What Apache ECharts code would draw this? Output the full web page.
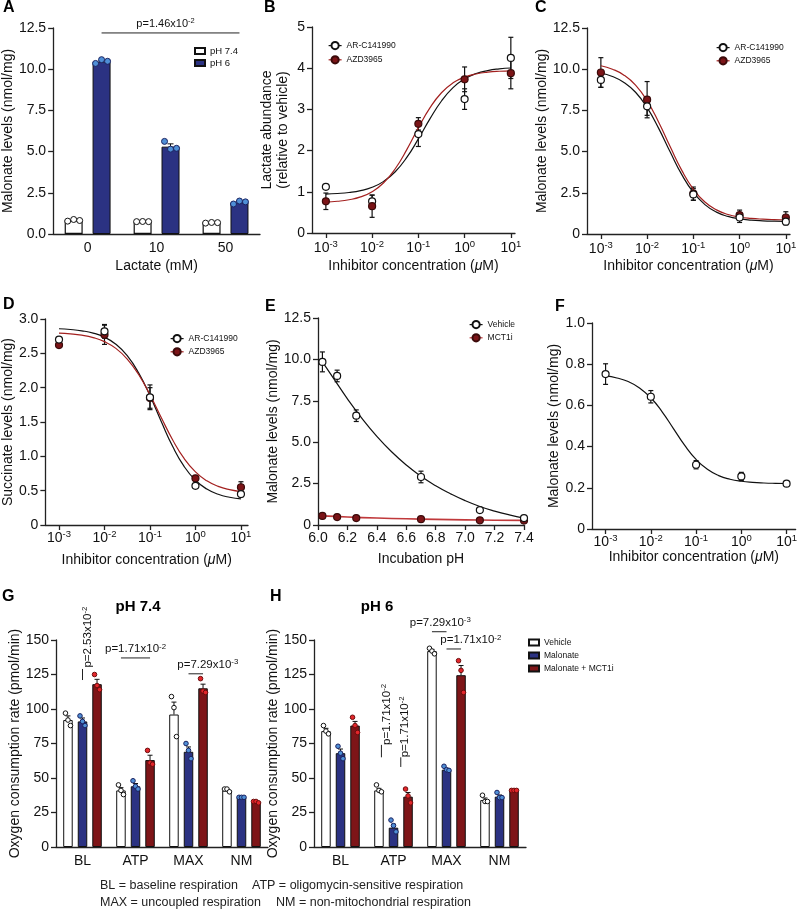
<!DOCTYPE html>
<html><head><meta charset="utf-8">
<script src="https://cdn.jsdelivr.net/npm/echarts@6/dist/echarts.min.js"></script>
<style>html,body{margin:0;padding:0;background:#fff}#wrap{position:relative;width:800px;height:910px;background:#fff}.p{position:absolute;left:0;top:0;width:800px;height:910px}</style>
</head><body><div id="wrap"></div>
<script>
// ---------- DATA ----------
// Panel A
const aCategories = ['0', '10', '50'];
const aPh74Mean = [0.82, 0.75, 0.68];
const aPh74Err = [0.03, 0.01, 0.02];
const aPh74Dots = [[0.78, 0.88, 0.82], [0.75, 0.76, 0.75], [0.66, 0.70, 0.69]];
const aPh6Mean = [10.45, 5.3, 1.92];
const aPh6Err = [0.06, 0.17, 0.07];
const aPh6Dots = [[10.35, 10.58, 10.48], [5.62, 5.15, 5.2], [1.82, 2.0, 1.95]];
const aSig = [{cat: 0, catTo: 2, from: 1, to: 1, y: 12.2, label: 'p=1.46x10', sup: '-2', dx: -5}];

// dose axis (log10 of µM) and tick exponents
const decadeExponents = [-3, -2, -1, 0, 1];
const doseLog10 = [-3, -2, -1, 0, 1];
const fitLog10 = [-3, -2.75, -2.5, -2.25, -2, -1.75, -1.5, -1.25, -1, -0.75, -0.5, -0.25, 0, 0.25, 0.5, 0.75, 1];

// Panel B
const bArcMean = [1.12, 0.77, 2.4, 3.25, 4.25];
const bArcErr = [0.05, 0.15, 0.3, 0.25, 0.5];
const bAzdMean = [0.77, 0.65, 2.65, 3.73, 3.88];
const bAzdErr = [0.2, 0.27, 0.15, 0.3, 0.38];
const bArcFit = [0.945, 0.959, 0.983, 1.028, 1.11, 1.253, 1.487, 1.834, 2.284, 2.77, 3.204, 3.53, 3.743, 3.87, 3.943, 3.983, 4.005];
const bAzdFit = [0.751, 0.77, 0.807, 0.876, 1.002, 1.219, 1.56, 2.024, 2.552, 3.037, 3.404, 3.644, 3.784, 3.86, 3.903, 3.926, 3.937];

// Panel C
const cArcMean = [9.35, 7.75, 2.4, 1.0, 0.75];
const cArcErr = [0.45, 0.55, 0.35, 0.3, 0.2];
const cAzdMean = [9.8, 8.15, 2.45, 1.15, 1.0];
const cAzdErr = [0.9, 1.1, 0.4, 0.3, 0.35];
const cArcFit = [9.76, 9.56, 9.2, 8.6, 7.67, 6.41, 4.97, 3.6, 2.52, 1.78, 1.327, 1.066, 0.92, 0.842, 0.799, 0.776, 0.764];
const cAzdFit = [10.21, 10.0, 9.64, 9.03, 8.08, 6.78, 5.29, 3.86, 2.72, 1.94, 1.463, 1.186, 1.03, 0.947, 0.902, 0.877, 0.865];

// Panel D
const dArcMean = [2.7, 2.82, 1.86, 0.57, 0.45];
const dArcErr = [0.03, 0.1, 0.18, 0.03, 0.04];
const dAzdMean = [2.62, 2.77, 1.85, 0.68, 0.55];
const dAzdErr = [0.03, 0.14, 0.15, 0.04, 0.08];
const dArcFit = [2.858, 2.847, 2.828, 2.795, 2.735, 2.633, 2.466, 2.215, 1.882, 1.503, 1.142, 0.853, 0.651, 0.523, 0.447, 0.404, 0.38];
const dAzdFit = [2.795, 2.784, 2.764, 2.729, 2.67, 2.572, 2.417, 2.192, 1.897, 1.562, 1.238, 0.969, 0.773, 0.643, 0.563, 0.515, 0.487];

// Panel E
const ePh = [6.03, 6.13, 6.26, 6.7, 7.1, 7.4];
const eVehicleMean = [9.85, 9.0, 6.6, 2.9, 0.9, 0.42];
const eVehicleErr = [0.6, 0.35, 0.35, 0.35, 0.08, 0.05];
const eMct1iMean = [0.55, 0.48, 0.42, 0.35, 0.28, 0.27];
const eMct1iErr = [0.05, 0.04, 0.04, 0.03, 0.03, 0.03];
const eFitPh = [6.03, 6.1, 6.2, 6.3, 6.4, 6.5, 6.6, 6.7, 6.8, 6.9, 7.0, 7.1, 7.2, 7.3, 7.4];
const eVehicleFit = [9.85, 8.93, 7.62, 6.42, 5.35, 4.42, 3.62, 2.94, 2.37, 1.89, 1.47, 1.12, 0.84, 0.61, 0.42];
const eMct1iFitPh = [6.03, 6.2, 6.4, 6.6, 6.8, 7.0, 7.2, 7.4];
const eMct1iFit = [0.55, 0.48, 0.42, 0.375, 0.34, 0.31, 0.29, 0.28];

// Panel F
const fMean = [0.752, 0.642, 0.312, 0.255, 0.22];
const fErr = [0.05, 0.03, 0.02, 0.02, 0.01];
const fFit = [0.743, 0.733, 0.716, 0.685, 0.637, 0.569, 0.4875, 0.4055, 0.3376, 0.2897, 0.2593, 0.2417, 0.2317, 0.2263, 0.2234, 0.2218, 0.2209];

// Panels G and H
const ocrCategories = ['BL', 'ATP', 'MAX', 'NM'];
const gVehicleMean = [92, 41, 96, 41];
const gVehicleErr = [3, 2, 9, 0.8];
const gMalonateMean = [91, 44, 69, 36];
const gMalonateErr = [2.5, 2, 3.5, 0.4];
const gMct1iMean = [118, 63, 115, 32.5];
const gMct1iErr = [3.5, 3.5, 3, 0.5];
const gVehicleDots = [[97, 92, 88], [45, 41, 38], [109, 101, 80], [42, 42, 40]];
const gMalonateDots = [[95, 91, 88], [48, 44, 42], [75, 70, 64], [36, 36, 36]];
const gMct1iDots = [[125, 117, 114], [70, 61, 60], [122, 113, 112], [33, 33, 32]];
const gSigH = [
  {cat: 1, catTo: 1, from: 0, to: 2, y: 137, label: 'p=1.71x10', sup: '-2', dx: 0},
  {cat: 2, catTo: 2, from: 1, to: 2, y: 125.5, label: 'p=7.29x10', sup: '-3', dx: 12}
];
const gSigV = [{cat: 0, at: 1, y1: 121, y2: 129, textY: 130, dx: 5, label: 'p=2.53x10', sup: '-2'}];

const hVehicleMean = [84, 41, 142, 34];
const hVehicleErr = [2, 1.5, 1.2, 1.5];
const hMalonateMean = [68, 14, 56, 36.5];
const hMalonateErr = [3, 2.5, 1, 1.2];
const hMct1iMean = [88, 36.5, 124.5, 41];
const hMct1iErr = [3, 3, 7, 0.3];
const hVehicleDots = [[88, 84, 82], [45, 41, 40], [144, 142, 140], [37.5, 33, 33]];
const hMalonateDots = [[73, 68, 64], [19.5, 15.5, 11], [58.5, 56, 55.5], [39.5, 35.8, 35.8]];
const hMct1iDots = [[94, 88, 83], [42, 37, 32], [135, 128, 112], [41, 41, 41]];
const hSigH = [
  {cat: 2, catTo: 2, from: 0, to: 1, y: 156, label: 'p=7.29x10', sup: '-3', dx: 1},
  {cat: 2, catTo: 2, from: 1, to: 2, y: 143.5, label: 'p=1.71x10', sup: '-2', dx: 17}
];
const hSigV = [
  {cat: 1, at: 0.17, y1: 65, y2: 74, textY: 74, dx: 5, label: 'p=1.71x10', sup: '-2'},
  {cat: 1, at: 1.5, y1: 58, y2: 65, textY: 65, dx: 4, label: 'p=1.71x10', sup: '-2'}
];

// ---------- STYLE ----------
const FONT = '"Liberation Sans", Arial, Helvetica, sans-serif';
const AXC = '#222', TXT = '#111';
const NAVY = '#2b3282', DRED = '#7e1518', LBLUE = '#4f8fd6', BRED = '#e3262b';
const CURVE_RED = '#a3201f', MARK_RED = '#7b1417';
const A_BW = 18, A_GAP = 0.55, A_STEP = A_BW * (1 + A_GAP);
const G_BW = 9.5, G_GAP = 0.53, G_STEP = G_BW * (1 + G_GAP);

const wrap = document.getElementById('wrap');
function mount(option) {
  const d = document.createElement('div'); d.className = 'p'; wrap.appendChild(d);
  const ch = echarts.init(d, null, {renderer: 'canvas', width: 800, height: 910});
  option.animation = false;
  option.textStyle = {fontFamily: FONT};
  ch.setOption(option);
}
function letter(t, x, y) {
  return {type: 'text', x, y, style: {text: t, fontSize: 16, fontWeight: 'bold', fontFamily: FONT, fill: '#000', align: 'left', verticalAlign: 'top'}};
}
const lineAx = {color: AXC, width: 1.3};
function yAx(max, interval, fmt, name, nameGap, fontSize, extra) {
  return {type: 'value', min: 0, max, interval,
    axisLine: {show: true, onZero: false, lineStyle: lineAx},
    axisTick: {show: true, length: 5, lineStyle: lineAx},
    axisLabel: {color: TXT, fontSize: fontSize || 14, fontFamily: FONT, margin: 7, formatter: fmt},
    splitLine: {show: false},
    name, nameLocation: 'middle', nameGap,
    nameTextStyle: Object.assign({color: TXT, fontSize: 14, fontFamily: FONT}, extra || {})};
}
function logX(min, max, margin, nameGap) {
  return {type: 'value', min, max,
    axisLine: {onZero: false, lineStyle: lineAx},
    axisTick: {customValues: decadeExponents, length: 5, lineStyle: lineAx},
    axisLabel: {customValues: decadeExponents, margin, formatter: v => '{b|10}{s|' + v + '}',
      rich: {b: {fontSize: 14, fontFamily: FONT, color: TXT, lineHeight: 16, verticalAlign: 'bottom'},
             s: {fontSize: 9.5, fontFamily: FONT, color: TXT, lineHeight: 9, verticalAlign: 'top'}}},
    splitLine: {show: false},
    name: '{n|Inhibitor concentration (}{i|\u03bc}{n|M)}', nameLocation: 'middle', nameGap,
    nameTextStyle: {rich: {n: {fontSize: 14, fontFamily: FONT, color: TXT}, i: {fontSize: 14, fontFamily: FONT, color: TXT, fontStyle: 'italic'}}}};
}
function catX(data, name, nameGap, margin) {
  return {type: 'category', data,
    axisLine: {onZero: false, lineStyle: lineAx},
    axisTick: {alignWithLabel: true, length: 5, lineStyle: lineAx},
    axisLabel: {color: TXT, fontSize: 14, fontFamily: FONT, margin},
    name, nameLocation: 'middle', nameGap, nameTextStyle: {color: TXT, fontSize: 14, fontFamily: FONT}};
}
function errSeries(xs, means, errs, color) {
  return {type: 'custom', silent: true, z: 2, data: xs.map((x, i) => [x, means[i], errs[i]]), encode: {x: 0, y: 1},
    renderItem: (p, api) => {
      const x = api.value(0), y = api.value(1), e = api.value(2);
      const t = api.coord([x, y + e]), b = api.coord([x, y - e]), c = 2.5;
      const st = {stroke: color, lineWidth: 1.2};
      return {type: 'group', children: [
        {type: 'line', shape: {x1: t[0], y1: t[1], x2: b[0], y2: b[1]}, style: st},
        {type: 'line', shape: {x1: t[0] - c, y1: t[1], x2: t[0] + c, y2: t[1]}, style: st},
        {type: 'line', shape: {x1: b[0] - c, y1: b[1], x2: b[0] + c, y2: b[1]}, style: st}]};
    }};
}
function points(name, xs, means, fill, stroke, size, lineColor) {
  return {type: 'line', name, data: xs.map((x, i) => [x, means[i]]), symbol: 'circle', symbolSize: size, showAllSymbol: true,
    clip: false, silent: true, z: 5, lineStyle: {opacity: 0, color: lineColor || stroke, width: 1.3},
    itemStyle: {color: fill, borderColor: stroke, borderWidth: 1.2}};
}
function curve(xs, ys, color, width) {
  return {type: 'line', data: xs.map((x, i) => [x, ys[i]]), symbol: 'none', smooth: 0.5,
    silent: true, z: 3, lineStyle: {color, width: width || 1.2}};
}
function barErr(means, errs, barIdx, nBars, step, cap) {
  return {type: 'custom', silent: true, z: 3, data: means.map((m, i) => [i, m, errs[i]]), encode: {x: 0, y: 1},
    renderItem: (p, api) => {
      const c = api.coord([api.value(0), api.value(1)]);
      const t = api.coord([api.value(0), api.value(1) + api.value(2)]);
      const x = c[0] + (barIdx - (nBars - 1) / 2) * step;
      const st = {stroke: '#111', lineWidth: 1};
      return {type: 'group', children: [
        {type: 'line', shape: {x1: x, y1: c[1], x2: x, y2: t[1]}, style: st},
        {type: 'line', shape: {x1: x - cap, y1: t[1], x2: x + cap, y2: t[1]}, style: st}]};
    }};
}
function barDots(dots, barIdx, nBars, step, jitter, r, fill, stroke) {
  const data = [];
  dots.forEach((arr, i) => arr.forEach((v, j) => data.push([i, v, j])));
  return {type: 'custom', silent: true, z: 4, data, encode: {x: 0, y: 1},
    renderItem: (p, api) => {
      const c = api.coord([api.value(0), api.value(1)]);
      const x = c[0] + (barIdx - (nBars - 1) / 2) * step + jitter[api.value(2)];
      return {type: 'circle', shape: {cx: x, cy: c[1], r}, style: {fill, stroke, lineWidth: 1}};
    }};
}
function supRich(fs) {
  return {n: {fontSize: fs, fontFamily: FONT, fill: TXT, lineHeight: fs + 2},
          s: {fontSize: fs * 0.68, fontFamily: FONT, fill: TXT, lineHeight: fs * 0.7, verticalAlign: 'top'}};
}
function sigH(list, nBars, step, fs) {
  return {type: 'custom', silent: true, z: 6, data: list.map(a => [a.cat, a.y]), encode: {x: 0, y: 1},
    renderItem: (p, api) => {
      const a = list[p.dataIndex];
      const c1 = api.coord([a.cat, a.y]), c2 = api.coord([a.catTo, a.y]);
      const x1 = c1[0] + (a.from - (nBars - 1) / 2) * step, x2 = c2[0] + (a.to - (nBars - 1) / 2) * step;
      return {type: 'group', children: [
        {type: 'line', shape: {x1, y1: c1[1], x2, y2: c1[1]}, style: {stroke: '#222', lineWidth: 1}},
        {type: 'text', x: (x1 + x2) / 2 + (a.dx || 0), y: c1[1] - 2,
         style: {text: '{n|' + a.label + '}{s|' + a.sup + '}', rich: supRich(fs), fill: TXT, align: 'center', verticalAlign: 'bottom'}}]};
    }};
}
function sigV(list, nBars, step, fs) {
  return {type: 'custom', silent: true, z: 6, data: list.map(a => [a.cat, a.y1]), encode: {x: 0, y: 1},
    renderItem: (p, api) => {
      const a = list[p.dataIndex];
      const c1 = api.coord([a.cat, a.y1]), c2 = api.coord([a.cat, a.y2]), ct = api.coord([a.cat, a.textY]);
      const x = c1[0] + (a.at - (nBars - 1) / 2) * step;
      return {type: 'group', children: [
        {type: 'line', shape: {x1: x, y1: c1[1], x2: x, y2: c2[1]}, style: {stroke: '#222', lineWidth: 1}},
        {type: 'text', x: x + a.dx, y: ct[1], rotation: Math.PI / 2,
         style: {text: '{n|' + a.label + '}{s|' + a.sup + '}', rich: supRich(fs), fill: TXT, align: 'left', verticalAlign: 'middle'}}]};
    }};
}
function lineLegend(left, top, gap, names, colors) {
  return {orient: 'vertical', left, top, padding: 0, itemWidth: 13, itemHeight: 9, itemGap: gap, selectedMode: false,
    lineStyle: {opacity: 1},
    textStyle: {fontSize: 8.5, fontFamily: FONT, color: TXT},
    data: names.map((n, i) => ({name: n, lineStyle: {opacity: 1, color: colors[i], width: 1.2}}))};
}
const fmt1 = v => v === 0 ? '0' : v.toFixed(1);

// ---------- PANEL A ----------
mount({
  graphic: [letter('A', 3, 0)],
  grid: {left: 46, top: 28, width: 214, height: 206},
  legend: {orient: 'vertical', left: 194, top: 46, padding: 0, icon: 'rect', itemWidth: 10, itemHeight: 6, itemGap: 2,
    selectedMode: false, textStyle: {fontSize: 9.5, fontFamily: FONT, color: TXT}, data: ['pH 7.4', 'pH 6']},
  xAxis: catX(aCategories, 'Lactate (mM)', 25, 7),
  yAxis: yAx(12.5, 2.5, v => v.toFixed(1), 'Malonate levels (nmol/mg)', 32),
  series: [
    {type: 'bar', name: 'pH 7.4', data: aPh74Mean, barWidth: A_BW, barGap: (A_GAP * 100) + '%', z: 2,
     itemStyle: {color: '#fff', borderColor: '#111', borderWidth: 1.2}},
    {type: 'bar', name: 'pH 6', data: aPh6Mean, barWidth: A_BW, barGap: (A_GAP * 100) + '%', z: 2,
     itemStyle: {color: NAVY, borderColor: '#111', borderWidth: 1}},
    barErr(aPh74Mean, aPh74Err, 0, 2, A_STEP, 3),
    barErr(aPh6Mean, aPh6Err, 1, 2, A_STEP, 3),
    barDots(aPh74Dots, 0, 2, A_STEP, [-6, 0, 6], 3, '#fff', '#111'),
    barDots(aPh6Dots, 1, 2, A_STEP, [-6, 0, 6], 3, LBLUE, '#1a2260'),
    sigH(aSig, 2, A_STEP, 11)
  ]
});

// ---------- PANEL B ----------
mount({
  graphic: [letter('B', 264, 0)],
  grid: {left: 312, top: 27, width: 203, height: 206},
  legend: lineLegend(328, 41, 5, ['AR-C141990', 'AZD3965'], ['#111', CURVE_RED]),
  xAxis: logX(-3.3, 1.09, 6, 26),
  yAxis: yAx(5, 1, v => String(v), 'Lactate abundance\n(relative to vehicle)', 21, 14, {lineHeight: 16}),
  series: [
    errSeries(doseLog10, bArcMean, bArcErr, '#111'),
    errSeries(doseLog10, bAzdMean, bAzdErr, '#111'),
    curve(fitLog10, bArcFit, '#111'),
    curve(fitLog10, bAzdFit, CURVE_RED),
    points('AR-C141990', doseLog10, bArcMean, '#fff', '#111', 7),
    points('AZD3965', doseLog10, bAzdMean, MARK_RED, '#3b0a0a', 7, CURVE_RED)
  ]
});

// ---------- PANEL C ----------
mount({
  graphic: [letter('C', 535, 0)],
  grid: {left: 587, top: 28, width: 203, height: 206},
  legend: lineLegend(716, 43, 4, ['AR-C141990', 'AZD3965'], ['#111', CURVE_RED]),
  xAxis: logX(-3.3, 1.09, 6, 25),
  yAxis: yAx(12.5, 2.5, fmt1, 'Malonate levels (nmol/mg)', 36),
  series: [
    errSeries(doseLog10, cAzdMean, cAzdErr, '#111'),
    errSeries(doseLog10, cArcMean, cArcErr, '#111'),
    curve(fitLog10, cArcFit, '#111'),
    curve(fitLog10, cAzdFit, CURVE_RED),
    points('AZD3965', doseLog10, cAzdMean, MARK_RED, '#3b0a0a', 7, CURVE_RED),
    points('AR-C141990', doseLog10, cArcMean, '#fff', '#111', 7)
  ]
});

// ---------- PANEL D ----------
mount({
  graphic: [letter('D', 3, 297)],
  grid: {left: 42, top: 319, width: 206, height: 206},
  legend: lineLegend(170, 334, 4, ['AR-C141990', 'AZD3965'], ['#111', CURVE_RED]),
  xAxis: logX(-3.3, 1.155, 4, 28),
  yAxis: yAx(3, 0.5, fmt1, 'Succinate levels (nmol/mg)', 27),
  series: [
    errSeries(doseLog10, dArcMean, dArcErr, '#111'),
    errSeries(doseLog10, dAzdMean, dAzdErr, '#111'),
    curve(fitLog10, dArcFit, '#111'),
    curve(fitLog10, dAzdFit, CURVE_RED),
    points('AZD3965', doseLog10, dAzdMean, MARK_RED, '#3b0a0a', 7, CURVE_RED),
    points('AR-C141990', doseLog10, dArcMean, '#fff', '#111', 7)
  ]
});

// ---------- PANEL E ----------
mount({
  graphic: [letter('E', 265, 299)],
  grid: {left: 318, top: 318, width: 206, height: 207},
  legend: lineLegend(469, 320, 4, ['Vehicle', 'MCT1i'], ['#111', '#c0393b']),
  xAxis: {type: 'value', min: 6.0, max: 7.4, interval: 0.2,
    axisLine: {onZero: false, lineStyle: lineAx}, axisTick: {length: 5, lineStyle: lineAx},
    axisLabel: {color: TXT, fontSize: 14, fontFamily: FONT, margin: 6, formatter: v => v.toFixed(1)},
    splitLine: {show: false}, name: 'Incubation pH', nameLocation: 'middle', nameGap: 27,
    nameTextStyle: {color: TXT, fontSize: 14, fontFamily: FONT}},
  yAxis: yAx(12.5, 2.5, fmt1, 'Malonate levels (nmol/mg)', 35),
  series: [
    errSeries(ePh, eVehicleMean, eVehicleErr, '#111'),
    errSeries(ePh, eMct1iMean, eMct1iErr, '#111'),
    curve(eFitPh, eVehicleFit, '#111'),
    curve(eMct1iFitPh, eMct1iFit, '#c0393b', 1.6),
    points('MCT1i', ePh, eMct1iMean, MARK_RED, '#3b0a0a', 7, '#c0393b'),
    points('Vehicle', ePh, eVehicleMean, '#fff', '#111', 7)
  ]
});

// ---------- PANEL F ----------
mount({
  graphic: [letter('F', 555, 299)],
  grid: {left: 592, top: 323, width: 208, height: 206},
  xAxis: logX(-3.3, 1.2, 4, 18),
  yAxis: yAx(1, 0.2, fmt1, 'Malonate levels (nmol/mg)', 26),
  series: [
    errSeries(doseLog10, fMean, fErr, '#111'),
    curve(fitLog10, fFit, '#111'),
    points('Malonate', doseLog10, fMean, '#fff', '#111', 7)
  ]
});

// ---------- PANEL G ----------
mount({
  graphic: [
    letter('G', 2, 589),
    {type: 'text', x: 138, y: 607, style: {text: 'pH 7.4', fontSize: 15, fontWeight: 'bold', fontFamily: FONT, fill: '#000', align: 'center', verticalAlign: 'middle'}},
    {type: 'text', x: 100, y: 886, style: {text: 'BL = baseline respiration', fontSize: 12.5, fontFamily: FONT, fill: '#222', align: 'left', verticalAlign: 'middle'}},
    {type: 'text', x: 252, y: 886, style: {text: 'ATP = oligomycin-sensitive respiration', fontSize: 12.5, fontFamily: FONT, fill: '#222', align: 'left', verticalAlign: 'middle'}},
    {type: 'text', x: 100, y: 903, style: {text: 'MAX = uncoupled respiration', fontSize: 12.5, fontFamily: FONT, fill: '#222', align: 'left', verticalAlign: 'middle'}},
    {type: 'text', x: 276, y: 903, style: {text: 'NM = non-mitochondrial respiration', fontSize: 12.5, fontFamily: FONT, fill: '#222', align: 'left', verticalAlign: 'middle'}}
  ],
  grid: {left: 56, top: 640, width: 212, height: 207},
  xAxis: catX(ocrCategories, '', 0, 7),
  yAxis: yAx(150, 25, v => String(v), 'Oxygen consumption rate (pmol/min)', 32, 14),
  series: [
    {type: 'bar', name: 'Vehicle', data: gVehicleMean, barWidth: G_BW, barGap: (G_GAP * 100) + '%', z: 2, itemStyle: {color: '#fff', borderColor: '#111', borderWidth: 1}},
    {type: 'bar', name: 'Malonate', data: gMalonateMean, barWidth: G_BW, barGap: (G_GAP * 100) + '%', z: 2, itemStyle: {color: NAVY, borderColor: '#111', borderWidth: 1}},
    {type: 'bar', name: 'Malonate + MCT1i', data: gMct1iMean, barWidth: G_BW, barGap: (G_GAP * 100) + '%', z: 2, itemStyle: {color: DRED, borderColor: '#111', borderWidth: 1}},
    barErr(gVehicleMean, gVehicleErr, 0, 3, G_STEP, 2.5),
    barErr(gMalonateMean, gMalonateErr, 1, 3, G_STEP, 2.5),
    barErr(gMct1iMean, gMct1iErr, 2, 3, G_STEP, 2.5),
    barDots(gVehicleDots, 0, 3, G_STEP, [-2.5, 0, 2.5], 2.3, '#fff', '#111'),
    barDots(gMalonateDots, 1, 3, G_STEP, [-2.5, 0, 2.5], 2.3, LBLUE, '#1a2260'),
    barDots(gMct1iDots, 2, 3, G_STEP, [-2.5, 0, 2.5], 2.3, BRED, '#6b0d0d'),
    sigH(gSigH, 3, G_STEP, 11.5),
    sigV(gSigV, 3, G_STEP, 11.5)
  ]
});

// ---------- PANEL H ----------
mount({
  graphic: [
    letter('H', 270, 589),
    {type: 'text', x: 377, y: 607, style: {text: 'pH 6', fontSize: 15, fontWeight: 'bold', fontFamily: FONT, fill: '#000', align: 'center', verticalAlign: 'middle'}}
  ],
  grid: {left: 314, top: 640, width: 212, height: 207},
  legend: {orient: 'vertical', left: 528, top: 638, padding: 0, icon: 'rect', itemWidth: 10, itemHeight: 6, itemGap: 4,
    selectedMode: false, textStyle: {fontSize: 8.5, fontFamily: FONT, color: TXT}, data: ['Vehicle', 'Malonate', 'Malonate + MCT1i']},
  xAxis: catX(ocrCategories, '', 0, 7),
  yAxis: yAx(150, 25, v => String(v), 'Oxygen consumption rate (pmol/min)', 29, 14),
  series: [
    {type: 'bar', name: 'Vehicle', data: hVehicleMean, barWidth: G_BW, barGap: (G_GAP * 100) + '%', z: 2, itemStyle: {color: '#fff', borderColor: '#111', borderWidth: 1}},
    {type: 'bar', name: 'Malonate', data: hMalonateMean, barWidth: G_BW, barGap: (G_GAP * 100) + '%', z: 2, itemStyle: {color: NAVY, borderColor: '#111', borderWidth: 1}},
    {type: 'bar', name: 'Malonate + MCT1i', data: hMct1iMean, barWidth: G_BW, barGap: (G_GAP * 100) + '%', z: 2, itemStyle: {color: DRED, borderColor: '#111', borderWidth: 1}},
    barErr(hVehicleMean, hVehicleErr, 0, 3, G_STEP, 2.5),
    barErr(hMalonateMean, hMalonateErr, 1, 3, G_STEP, 2.5),
    barErr(hMct1iMean, hMct1iErr, 2, 3, G_STEP, 2.5),
    barDots(hVehicleDots, 0, 3, G_STEP, [-2.5, 0, 2.5], 2.3, '#fff', '#111'),
    barDots(hMalonateDots, 1, 3, G_STEP, [-2.5, 0, 2.5], 2.3, LBLUE, '#1a2260'),
    barDots(hMct1iDots, 2, 3, G_STEP, [-2.5, 0, 2.5], 2.3, BRED, '#6b0d0d'),
    sigH(hSigH, 3, G_STEP, 11.5),
    sigV(hSigV, 3, G_STEP, 11.5)
  ]
});
</script>
</body></html>
